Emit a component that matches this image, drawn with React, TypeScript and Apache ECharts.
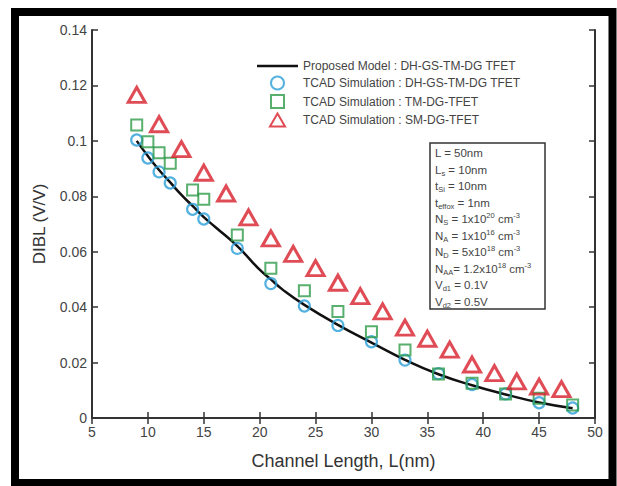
import React, { useEffect, useRef } from "react";
import * as echarts from "echarts";

const xTicks = [5, 10, 15, 20, 25, 30, 35, 40, 45, 50];
const yTicks = [0, 0.02, 0.04, 0.06, 0.08, 0.1, 0.12, 0.14];

const modelX = [9, 10, 11, 12, 13, 14, 15, 16, 18, 20, 21, 22, 24, 27, 30, 33, 36, 39, 42, 45, 48];
const modelY = [0.1, 0.0945, 0.0895, 0.085, 0.0805, 0.0765, 0.0725, 0.069, 0.062, 0.0535, 0.05, 0.0465, 0.0408, 0.0336, 0.0272, 0.021, 0.0158, 0.0118, 0.0085, 0.0056, 0.0035];

const circleX = [9, 10, 11, 12, 14, 15, 18, 21, 24, 27, 30, 33, 36, 39, 42, 45, 48];
const circleY = [0.1003, 0.0938, 0.0888, 0.0848, 0.0753, 0.0718, 0.0612, 0.0485, 0.0404, 0.0334, 0.0275, 0.0209, 0.016, 0.0121, 0.0087, 0.0055, 0.0036];

const squareX = [9, 10, 11, 12, 14, 15, 18, 21, 24, 27, 30, 33, 36, 39, 42, 45, 48];
const squareY = [0.1057, 0.0997, 0.0957, 0.0919, 0.0823, 0.0789, 0.066, 0.054, 0.0459, 0.0384, 0.0311, 0.0245, 0.0159, 0.0125, 0.0087, 0.0071, 0.0047];

const triX = [9, 11, 13, 15, 17, 19, 21, 23, 25, 27, 29, 31, 33, 35, 37, 39, 41, 43, 45, 47];
const triY = [0.1166, 0.106, 0.097, 0.0885, 0.081, 0.0724, 0.0648, 0.0592, 0.0541, 0.0488, 0.044, 0.0385, 0.0326, 0.0286, 0.0247, 0.0193, 0.0162, 0.0132, 0.0113, 0.0104];

const seriesNames = [
  "Proposed Model : DH-GS-TM-DG TFET",
  "TCAD Simulation : DH-GS-TM-DG TFET",
  "TCAD Simulation : TM-DG-TFET",
  "TCAD Simulation : SM-DG-TFET",
];

const paramLines = [
  "{m|L = 50nm}",
  "{m|L}{s|s}{m| = 10nm}",
  "{m|t}{s|Si}{m| = 10nm}",
  "{m|t}{s|effox}{m| = 1nm}",
  "{m|N}{s|S}{m| = 1x10}{p|20}{m| cm}{p|-3}",
  "{m|N}{s|A}{m| = 1x10}{p|16}{m| cm}{p|-3}",
  "{m|N}{s|D}{m| = 5x10}{p|18}{m| cm}{p|-3}",
  "{m|N}{s|AA}{m|= 1.2x10}{p|18}{m| cm}{p|-3}",
  "{m|V}{s|d1}{m| = 0.1V}",
  "{m|V}{s|d2}{m| = 0.5V}",
];

const FONT = "'Liberation Sans', Arial, Helvetica, sans-serif";
const TXT = "#444";

const zip = (xs: number[], ys: number[]) => xs.map((x, i) => [x, ys[i]]);

export default function App() {
  const ref = useRef<HTMLDivElement>(null);
  useEffect(() => {
    if (!ref.current) return;
    const chart = echarts.init(ref.current, null, { renderer: "svg" });
    const rich = {
      m: { fontSize: 11.5, fontFamily: FONT, fill: TXT, lineHeight: 15 },
      s: { fontSize: 7.5, fontFamily: FONT, fill: TXT, lineHeight: 9, verticalAlign: "bottom" },
      p: { fontSize: 7.5, fontFamily: FONT, fill: TXT, lineHeight: 9, verticalAlign: "top" },
    };
    const axisCommon = {
      type: "value",
      axisLine: { show: true, lineStyle: { color: "#333", width: 2 } },
      axisTick: { show: true, inside: true, length: 6, lineStyle: { color: "#333", width: 1.5 } },
      splitLine: { show: false },
    };
    const option: any = {
      animation: false,
      backgroundColor: "#fff",
      textStyle: { fontFamily: FONT },
      grid: { left: 92, top: 30, right: 22, bottom: 68, containLabel: false },
      legend: {
        orient: "vertical",
        left: 252,
        top: 55,
        itemWidth: 41,
        itemHeight: 13,
        itemGap: 3.5,
        symbolKeepAspect: true,
        textStyle: { fontSize: 12, color: TXT, fontFamily: FONT },
        data: [
          { name: seriesNames[0], icon: "path://M0,0H43V2.6H0Z", itemStyle: { color: "#111", borderWidth: 0 } },
          { name: seriesNames[1], icon: "circle" },
          { name: seriesNames[2], icon: "path://M0,0H10V10H0Z" },
          { name: seriesNames[3], icon: "path://M5.5,0L11,9.5H0Z" },
        ],
      },
      xAxis: [
        {
          ...axisCommon,
          position: "bottom",
          min: xTicks[0],
          max: xTicks[xTicks.length - 1],
          interval: 5,
          axisLabel: { color: TXT, fontSize: 14, margin: 7, fontFamily: FONT },
          name: "Channel Length, L(nm)",
          nameLocation: "middle",
          nameGap: 34,
          nameTextStyle: { fontSize: 18, color: "#333", fontFamily: FONT },
        },
        {
          ...axisCommon,
          position: "top",
          min: xTicks[0],
          max: xTicks[xTicks.length - 1],
          interval: 5,
          axisLabel: { show: false },
        },
      ],
      yAxis: [
        {
          ...axisCommon,
          position: "left",
          min: yTicks[0],
          max: yTicks[yTicks.length - 1],
          interval: 0.02,
          axisLabel: { color: TXT, fontSize: 14, margin: 5, fontFamily: FONT },
          name: "DIBL (V/V)",
          nameLocation: "middle",
          nameGap: 44,
          nameTextStyle: { fontSize: 17, color: "#333", fontFamily: FONT },
        },
        {
          ...axisCommon,
          position: "right",
          min: yTicks[0],
          max: yTicks[yTicks.length - 1],
          interval: 0.02,
          axisLabel: { show: false },
        },
      ],
      series: [
        {
          name: seriesNames[0],
          type: "line",
          smooth: true,
          symbol: "none",
          data: zip(modelX, modelY),
          lineStyle: { color: "#111", width: 2.5 },
          itemStyle: { color: "#111" },
          z: 3,
        },
        {
          name: seriesNames[1],
          type: "scatter",
          symbol: "circle",
          symbolSize: 11,
          data: zip(circleX, circleY),
          itemStyle: { color: "rgba(255,255,255,0)", borderColor: "#2a9fd8", borderWidth: 2.2 },
          z: 4,
        },
        {
          name: seriesNames[2],
          type: "scatter",
          symbol: "rect",
          symbolSize: 11,
          data: zip(squareX, squareY),
          itemStyle: { color: "rgba(255,255,255,0)", borderColor: "#2f9b4a", borderWidth: 2 },
          z: 4,
        },
        {
          name: seriesNames[3],
          type: "scatter",
          symbol: "triangle",
          symbolSize: [17, 15],
          data: zip(triX, triY),
          itemStyle: { color: "rgba(255,255,255,0)", borderColor: "#d81f2a", borderWidth: 3 },
          z: 4,
        },
      ],
      graphic: [
        {
          type: "rect",
          shape: { x: 15, y: 12, width: 597.5, height: 471 },
          style: { fill: "none", stroke: "#000", lineWidth: 8 },
          silent: true,
          z: 100,
        },
        {
          type: "rect",
          shape: { x: 430, y: 143, width: 115, height: 166 },
          style: { fill: "#fff", stroke: "#333", lineWidth: 1.5 },
          z: 50,
        },
        ...paramLines.map((t, i) => ({
          type: "text",
          x: 435,
          y: 153 + i * 16.5,
          z: 51,
          style: { text: t, rich, verticalAlign: "middle", align: "left" },
        })),
      ],
    };
    chart.setOption(option);
    return () => chart.dispose();
  }, []);
  return (
    <div
      ref={ref}
      style={{ position: "fixed", left: 0, top: 0, width: 617, height: 486, background: "#fff" }}
    />
  );
}
